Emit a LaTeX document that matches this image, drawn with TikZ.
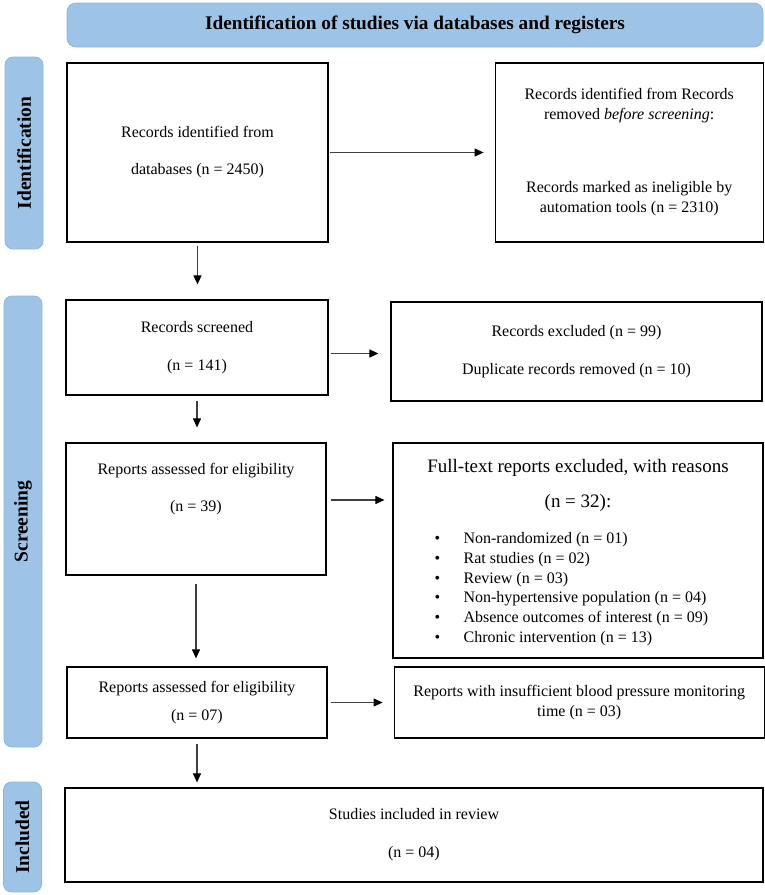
\documentclass[tikz,border=0pt]{standalone}
\usepackage{fontspec}
\setmainfont{Liberation Serif}
\usepackage{xcolor}
\definecolor{lineDark}{HTML}{3F3F3F}
\definecolor{barBlue}{HTML}{9DC3E6}
\definecolor{barEdge}{HTML}{8FB6DE}
\usetikzlibrary{positioning,arrows.meta}
\newcommand{\reasonItem}[1]{\makebox[29pt][l]{\textbullet}#1}
\tikzset{%
  recordBox/.style={%
    rectangle,
    draw=black,
    line width=1.2pt,
    fill=white,
    align=center,
    font=\fontsize{16}{20}\selectfont
  },
  boxText/.style={%
    inner sep=0pt,
    align=center,
    font=\fontsize{16}{20}\selectfont
  },
  stageBar/.style={%
    rectangle,
    rounded corners=8pt,
    draw=barEdge,
    line width=0.8pt,
    fill=barBlue,
    rotate=90,
    minimum height=38pt,
    font=\fontsize{19.5}{22}\selectfont\bfseries
  },
  bannerBox/.style={%
    rectangle,
    rounded corners=9pt,
    draw=barEdge,
    line width=0.8pt,
    fill=barBlue,
    minimum width=696pt,
    minimum height=44pt,
    font=\fontsize{19.3}{22}\selectfont\bfseries
  },
  flowArrow/.style={%
    -{Triangle[length=9pt,width=8pt,color=black]},
    line width=1.1pt,
    draw=lineDark
  }
}

\begin{document}
\begin{tikzpicture}[x=1pt,y=-1pt]
  \useasboundingbox (0,0) rectangle (765,895);

  % header and stage bars
  \node[bannerBox] (banner) at (415,25) {Identification of studies via databases and registers};
  \node[stageBar, minimum width=192pt] (idStage) at (24,153) {Identification};
  \node[stageBar, minimum width=451pt] (scrStage) at (23,521.5) {Screening};
  \node[stageBar, minimum width=110pt] (inclStage) at (22.5,837) {Included};

  % identification
  \node[recordBox, minimum width=261pt, minimum height=179pt] (idDb) at (197.5,152.5)
    {Records identified from\\[17pt]databases (n = 2450)};
  \node[recordBox, minimum width=268pt, minimum height=179pt, right=166pt of idDb] (idOut)
    {Records identified from Records\\removed \textit{before screening}:\\[53pt]Records marked as ineligible by\\automation tools (n = 2310)};

  % screening
  \node[recordBox, minimum width=262pt, minimum height=95pt] (screened) at (197,347.5)
    {Records screened\\[18pt](n = 141)};
  \node[recordBox, minimum width=371pt, minimum height=99pt] (excluded) at (576.5,351.5)
    {Records excluded (n = 99)\\[18pt]Duplicate records removed (n = 10)};

  \node[recordBox, minimum width=260pt, minimum height=132pt] (assess) at (196,509) {};
  \node[boxText, anchor=north] (assessTxt) at ([yshift=-21pt]assess.north)
    {Reports assessed for eligibility\\[17pt](n = 39)};
  \node[recordBox, minimum width=370pt, minimum height=215pt] (fullText) at (578,550.5) {};
  \node[boxText, anchor=north, font=\fontsize{19}{35}\selectfont] (fullTextHead) at ([yshift=-17pt]fullText.north)
    {Full-text reports excluded, with reasons\\(n = 32):};
  \node[boxText, anchor=north west, align=left, font=\fontsize{16}{19.7}\selectfont] (fullTextList)
    at ([xshift=42pt,yshift=-90pt]fullText.north west)
    {\reasonItem{Non-randomized (n = 01)}\\
     \reasonItem{Rat studies (n = 02)}\\
     \reasonItem{Review (n = 03)}\\
     \reasonItem{Non-hypertensive population (n = 04)}\\
     \reasonItem{Absence outcomes of interest (n = 09)}\\
     \reasonItem{Chronic intervention (n = 13)}};

  \node[recordBox, minimum width=260pt, minimum height=71pt] (reportsKept) at (197,702.5)
    {Reports assessed for eligibility\\[8pt](n = 07)};
  \node[recordBox, minimum width=370pt, minimum height=71pt, right=66pt of reportsKept] (bpTime)
    {Reports with insufficient blood pressure monitoring\\time (n = 03)};

  % included
  \node[recordBox, minimum width=698pt, minimum height=94pt] (included) at (414,835)
    {Studies included in review\\[18pt](n = 04)};

  % arrows
  \draw[flowArrow, shorten <=1pt, shorten >=11pt] (idDb) -- (idOut);
  \draw[flowArrow, shorten <=3pt, shorten >=15pt] (idDb.south) -- (idDb.south |- screened.north);
  \draw[flowArrow, shorten <=2pt, shorten >=12pt] ([yshift=-6pt]screened.east) -- ([yshift=-6pt]screened.east -| excluded.west);
  \draw[flowArrow, shorten <=5pt, shorten >=15pt] (screened.south) -- (screened.south |- assess.north);
  \draw[flowArrow, shorten <=4pt, shorten >=8pt] ([yshift=9pt]assess.east) -- ([yshift=9pt]assess.east -| fullText.west);
  \draw[flowArrow, shorten <=8pt, shorten >=8pt] (assess.south) -- (assess.south |- reportsKept.north);
  \draw[flowArrow, shorten <=3pt, shorten >=11pt] (reportsKept) -- (bpTime);
  \draw[flowArrow, shorten <=5pt, shorten >=5pt] (reportsKept.south) -- (reportsKept.south |- included.north);
\end{tikzpicture}
\end{document}
